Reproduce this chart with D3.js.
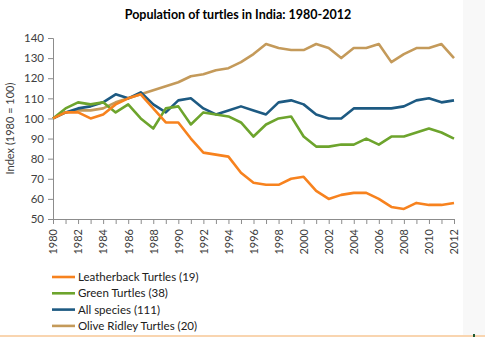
<!DOCTYPE html>
<html>
<head>
<meta charset="utf-8">
<script src="https://cdn.jsdelivr.net/npm/d3@7"></script>
<style>
  body { margin: 0; background: #fff; }
  svg { display: block; font-family: Lato, "Open Sans", sans-serif; }
</style>
</head>
<body>
<div id="plotdiv"></div>
<script>
// data
const years = d3.range(1980, 2013);
const yTicks = [50, 60, 70, 80, 90, 100, 110, 120, 130, 140];

const leatherback = [100, 103, 103, 100, 102, 107, 110, 112, 105, 98, 98, 90, 83, 82, 81, 73, 68, 67, 67, 70, 71, 64, 60, 62, 63, 63, 60, 56, 55, 58, 57, 57, 58];
const green = [100, 105, 108, 107, 108, 103, 107, 100, 95, 105, 106, 97, 103, 102, 101, 98, 91, 97, 100, 101, 91, 86, 86, 87, 87, 90, 87, 91, 91, 93, 95, 93, 90];
const allSpecies = [100, 103, 105, 106, 108, 112, 110, 113, 107, 103, 109, 110, 105, 102, 104, 106, 104, 102, 108, 109, 107, 102, 100, 100, 105, 105, 105, 105, 106, 109, 110, 108, 109];
const oliveRidley = [100, 103, 104, 104, 105, 108, 110, 112, 114, 116, 118, 121, 122, 124, 125, 128, 132, 137, 135, 134, 134, 137, 135, 130, 135, 135, 137, 128, 132, 135, 135, 137, 130];

const seriesNames = ["Leatherback Turtles (19)", "Green Turtles (38)", "All species (111)", "Olive Ridley Turtles (20)"];
const seriesColors = ["#F7821E", "#6DA42D", "#1D5A82", "#C49A5A"];

// draw order: olive at back, leatherback on top
const series = [
  {name: seriesNames[3], color: seriesColors[3], values: oliveRidley},
  {name: seriesNames[2], color: seriesColors[2], values: allSpecies},
  {name: seriesNames[1], color: seriesColors[1], values: green},
  {name: seriesNames[0], color: seriesColors[0], values: leatherback}
];

const W = 485, H = 337;
const margin = {top: 38, left: 53, right: 31, bottom: 118};

const svg = d3.select("#plotdiv").append("svg")
  .attr("width", W)
  .attr("height", H);

// background pieces
svg.append("rect").attr("x", 463).attr("y", 0).attr("width", W - 463).attr("height", H).attr("fill", "#f8f8f8");
svg.append("rect").attr("x", 0).attr("y", 335).attr("width", W).attr("height", 2).attr("fill", "#f9d5b0");
svg.append("rect").attr("x", 473).attr("y", 334).attr("width", 2).attr("height", 3).attr("fill", "#1e5a32");

const x = d3.scaleLinear()
  .domain([1980, 2012])
  .range([margin.left, W - margin.right]);

const y = d3.scaleLinear()
  .domain([50, 140])
  .range([H - margin.bottom, margin.top]);

// title
svg.append("text")
  .attr("x", 238)
  .attr("y", 19)
  .attr("text-anchor", "middle")
  .attr("font-size", 12.5)
  .attr("font-weight", "bold")
  .attr("fill", "#000")
  .text("Population of turtles in India: 1980-2012");

// y axis
const yAxis = svg.append("g")
  .attr("transform", "translate(" + margin.left + ",0)")
  .call(d3.axisLeft(y).tickValues(yTicks).tickSize(5).tickPadding(4));
yAxis.selectAll("text").attr("font-size", 11.5).attr("fill", "#404040").attr("font-family", "Lato, sans-serif");

// x axis
const xAxis = svg.append("g")
  .attr("transform", "translate(0," + y(50) + ")")
  .call(d3.axisBottom(x).tickValues(years).tickSize(5).tickFormat(d => d % 2 == 0 ? d : ""));
xAxis.selectAll("text")
  .attr("font-size", 11)
  .attr("fill", "#404040")
  .attr("font-family", "Lato, sans-serif")
  .attr("transform", "rotate(-90)")
  .attr("text-anchor", "end")
  .attr("x", -10)
  .attr("y", 0)
  .attr("dy", "0.35em");

svg.selectAll(".domain, .tick line").attr("stroke", "#8c8c8c");

// y label
svg.append("text")
  .attr("transform", "translate(14," + y(95) + ") rotate(-90)")
  .attr("text-anchor", "middle")
  .attr("font-size", 11)
  .attr("fill", "#404040")
  .text("Index (1980 = 100)");

// lines
const line = d3.line()
  .x((v, i) => x(years[i]))
  .y(v => y(v));

svg.selectAll(".series")
  .data(series)
  .enter()
  .append("path")
  .attr("class", "series")
  .attr("d", s => line(s.values))
  .attr("fill", "none")
  .attr("stroke", s => s.color)
  .attr("stroke-width", 2.6)
  .attr("stroke-linejoin", "round");

// legend
const legend = svg.append("g")
  .selectAll("g")
  .data(seriesNames)
  .enter()
  .append("g")
  .attr("transform", (d, i) => "translate(52," + (277 + i * 16.3) + ")");

legend.append("line")
  .attr("x1", 0).attr("x2", 23)
  .attr("stroke", (d, i) => seriesColors[i])
  .attr("stroke-width", 2.6);

legend.append("text")
  .attr("x", 26)
  .attr("dy", "0.35em")
  .attr("font-size", 11.5)
  .attr("fill", "#202020")
  .text(d => d);
</script>
</body>
</html>
